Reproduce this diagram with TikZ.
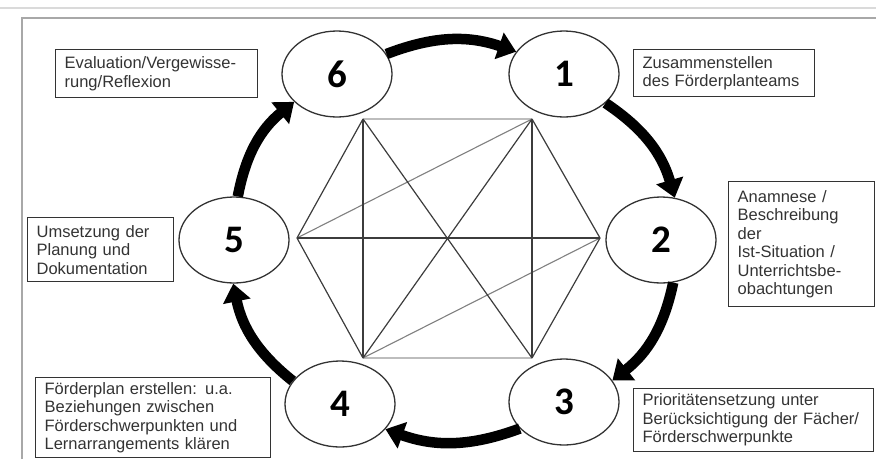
\documentclass[tikz,border=0pt]{standalone}
\usepackage{fontspec}
\setmainfont{Liberation Sans}
\newfontfamily\digitfont{Carlito}
\usetikzlibrary{arrows.meta,shapes.geometric}
\definecolor{ink}{HTML}{333333}
\definecolor{frame}{HTML}{A8A8A8}
\definecolor{rule}{HTML}{DADADA}
\definecolor{edge}{HTML}{3C3C3C}
\definecolor{soft}{HTML}{808080}
\definecolor{faint}{HTML}{BDBDBD}
\tikzset{
  >=Latex,
  every node/.style={text=ink},
  phase/.style={ellipse,draw=ink,line width=1.3pt,fill=white,minimum width=110pt,minimum height=86pt,inner sep=0pt,font=\digitfont\bfseries\fontsize{39}{39}\selectfont,text=black},
  infobox/.style={draw=ink,line width=1.3pt,anchor=north west,align=left,inner xsep=9pt,inner ysep=3pt,font=\fontsize{16.5}{18.5}\selectfont},
  cyclearrow/.style={line width=10.5pt,draw=black,-{Triangle[width=27pt,length=18pt]}},
  link/.style={draw=edge,line width=1.2pt},
  softlink/.style={draw=soft,line width=1.1pt},
  faintlink/.style={draw=faint,line width=1.8pt},
}

\begin{document}
\begin{tikzpicture}[x=1pt,y=-1pt]
\useasboundingbox (0,0) rectangle (876,459);

\draw[rule,line width=2pt] (0,8) -- (876,8);
\draw[frame,line width=1.5pt] (22,459) -- (22,18) -- (876,18);

\coordinate (hA) at (363,119);
\coordinate (hB) at (532,119);
\coordinate (hC) at (600,238);
\coordinate (hD) at (532,358);
\coordinate (hE) at (363,358);
\coordinate (hF) at (297,238);

\draw[faintlink] (hA) -- (hB);
\draw[faintlink] (hE) -- (hD);
\draw[softlink] (hF) -- (hB);
\draw[softlink] (hE) -- (hC);
\draw[link] (hA) -- (hF);
\draw[link] (hA) -- (hE);
\draw[link] (hA) -- (hD);
\draw[link] (hB) -- (hE);
\draw[link] (hB) -- (hD);
\draw[link] (hB) -- (hC);
\draw[link] (hC) -- (hD);
\draw[link] (hC) -- (hF);
\draw[link] (hE) -- (hF);

\node[phase] (six) at (337,74) {6};
\node[phase] (one) at (564,74) {1};
\node[phase] (two) at (661,240) {2};
\node[phase] (three) at (564,402) {3};
\node[phase] (four) at (340,404) {4};
\node[phase] (five) at (234,240) {5};

\draw[cyclearrow] (six.22) to[bend left=20] (one.155);
\draw[cyclearrow] (one.-35) to[bend left=20] (two.72);
\draw[cyclearrow] (two.-74) to[bend left=20] (three.24);
\draw[cyclearrow] (three.-149) to[bend left=20] (four.-29);
\draw[cyclearrow] (four.154) to[bend left=20] (five.-91);
\draw[cyclearrow] (five.85) to[bend left=20] (six.213);

\node[infobox,text width=184pt,minimum height=48pt] (evalbox) at (55,49)
{Evaluation/Vergewisse-\\rung/Reflexion};
\node[infobox,text width=163pt,minimum height=47pt] (teambox) at (633,49)
{Zusammenstellen\\des Förderplanteams};
\node[infobox,text width=128pt,minimum height=125pt] (anambox) at (728,181)
{Anamnese /\\Beschreibung\\der\\Ist-Situation /\\Unterrichtsbe-\\obachtungen};
\node[infobox,text width=128pt,minimum height=64pt] (umsetzbox) at (27,217)
{Umsetzung der\\Planung und\\Dokumentation};
\node[infobox,text width=217pt,minimum height=80pt] (planbox) at (35,377)
{Förderplan erstellen: u.a.\\Beziehungen zwischen\\Förderschwerpunkten und\\Lernarrangements klären};
\node[infobox,text width=222pt,minimum height=63pt] (priobox) at (633,388)
{Prioritätensetzung unter\\Berücksichtigung der Fächer/\\Förderschwerpunkte};

\end{tikzpicture}
\end{document}
